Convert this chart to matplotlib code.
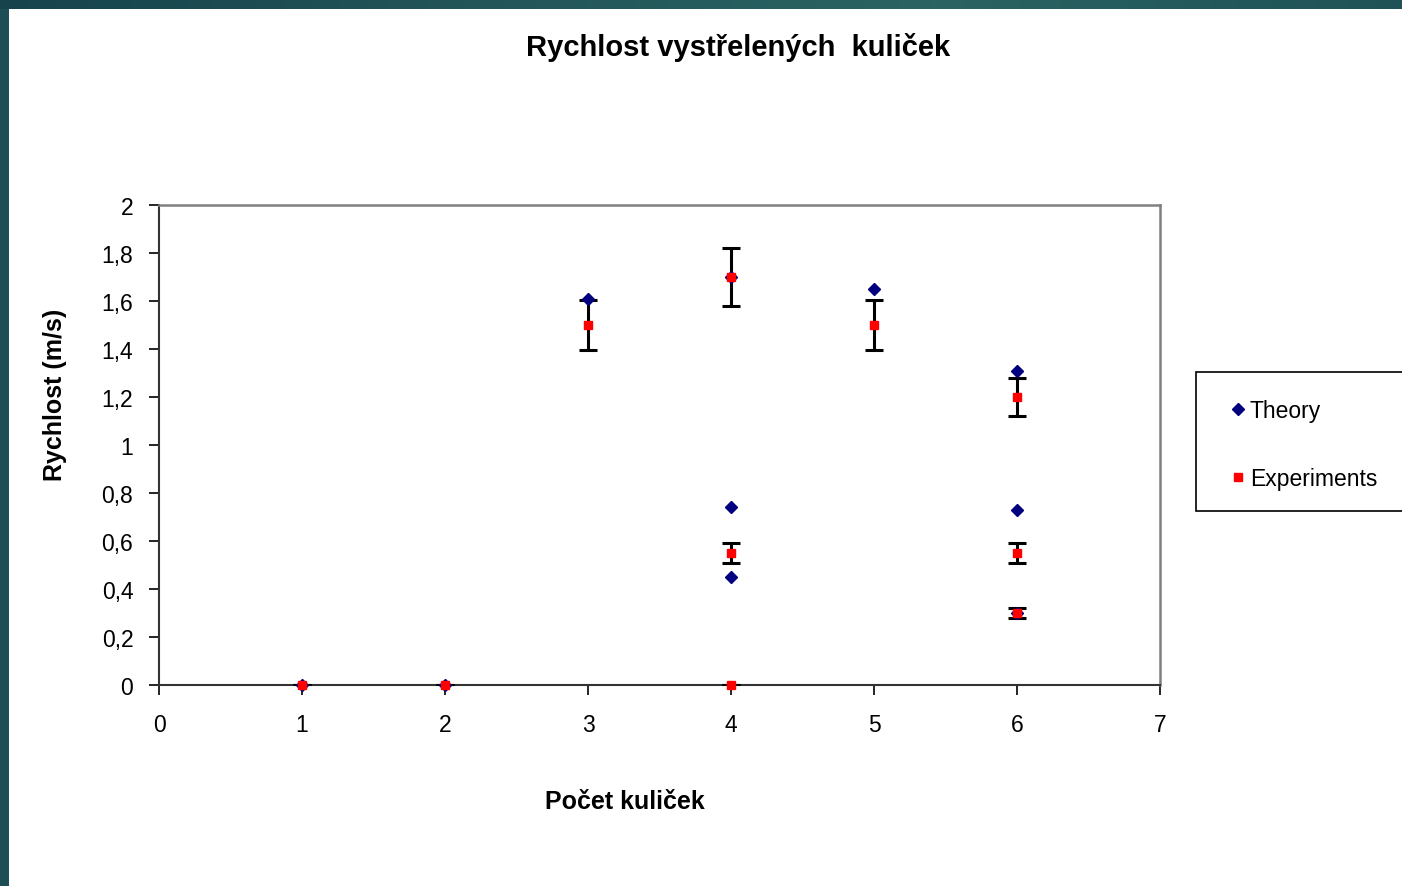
import matplotlib
matplotlib.use("Agg")
import matplotlib.pyplot as plt
import numpy as np
from matplotlib.patches import Rectangle
from matplotlib.lines import Line2D
from matplotlib.colors import LinearSegmentedColormap

plt.rcParams['font.family'] = ['Liberation Sans', 'DejaVu Sans']

# ---- data ----
theory_x = [1, 2, 3, 4, 4, 4, 5, 6, 6, 6]
theory_y = [0, 0, 1.61, 1.70, 0.74, 0.45, 1.65, 1.31, 0.73, 0.30]

exp_x = [1, 2, 3, 4, 4, 4, 5, 6, 6, 6]
exp_y = [0, 0, 1.50, 1.70, 0.55, 0.0, 1.50, 1.20, 0.55, 0.30]
exp_err = [0, 0, 0.105, 0.12, 0.04, 0, 0.105, 0.08, 0.04, 0.02]

xticks = [0, 1, 2, 3, 4, 5, 6, 7]
xtick_labels = ['0', '1', '2', '3', '4', '5', '6', '7']
yticks = [0, 0.2, 0.4, 0.6, 0.8, 1.0, 1.2, 1.4, 1.6, 1.8, 2.0]
ytick_labels = ['0', '0,2', '0,4', '0,6', '0,8', '1', '1,2', '1,4', '1,6', '1,8', '2']

title = 'Rychlost vystřelených  kuliček'
xlabel = 'Počet kuliček'
ylabel = 'Rychlost (m/s)'
series_names = ['Theory', 'Experiments']

W, H = 1402, 887
fig = plt.figure(figsize=(W / 100, H / 100), dpi=100)
fig.patch.set_facecolor('#1d4d55')

# white page
fig.patches.append(Rectangle((9 / W, 0), 1, 1 - 10 / H, transform=fig.transFigure,
                             facecolor='white', edgecolor='none', zorder=-5))

# top gradient bar
gax = fig.add_axes([0, 1 - 10 / H, 1, 10 / H])
grad = np.linspace(0, 1, 256).reshape(1, -1)
cmap = LinearSegmentedColormap.from_list('g', ['#17434d', '#225558', '#2a6362', '#1f5257'])
gax.imshow(grad, aspect='auto', cmap=cmap, extent=[0, 1, 0, 1])
gax.axis('off')

ax = fig.add_axes([159 / W, 1 - 686 / H, (1160 - 159) / W, (686 - 206) / H])
ax.set_zorder(3)
ax.set_facecolor('white')

ax.errorbar(exp_x, exp_y, yerr=exp_err, fmt='none', ecolor='black', elinewidth=2.2,
            capsize=6.5, capthick=2.2, zorder=3)
ax.plot(theory_x, theory_y, linestyle='none', marker='D', markersize=6,
        color='#000080', zorder=4, clip_on=False)
ax.plot(exp_x, exp_y, linestyle='none', marker='s', markersize=5.3,
        color='#ff0000', zorder=5, clip_on=False)

ax.set_xlim(0, 7)
ax.set_ylim(0, 2)
ax.set_xticks(xticks)
ax.set_xticklabels(xtick_labels)
ax.set_yticks(yticks)
ax.set_yticklabels(ytick_labels)
ax.tick_params(axis='both', direction='out', length=7, width=1.2, labelsize=16.5,
               colors='black')
ax.tick_params(axis='x', pad=13.5)
ax.tick_params(axis='y', pad=11.5)

for s in ['top', 'right']:
    ax.spines[s].set_color('#808080')
    ax.spines[s].set_linewidth(1.8)
for s in ['left', 'bottom']:
    ax.spines[s].set_color('#333333')
    ax.spines[s].set_linewidth(1.5)

fig.text(738 / W, 1 - 48 / H, title, ha='center', va='center', fontsize=21,
         fontweight='bold')
fig.text(625 / W, 1 - 802 / H, xlabel, ha='center', va='center', fontsize=18,
         fontweight='bold')
fig.text(55 / W, 1 - 395 / H, ylabel, ha='center', va='center', fontsize=18,
         fontweight='bold', rotation=90)

# legend
fig.patches.append(Rectangle((1196 / W, 1 - 512 / H), (1420 - 1196) / W, (512 - 373) / H,
                             transform=fig.transFigure, facecolor='white',
                             edgecolor='black', linewidth=1.2, zorder=1))
handles = [Line2D([], [], linestyle='none', marker='D', markersize=6, color='#000080'),
           Line2D([], [], linestyle='none', marker='s', markersize=5.3, color='#ff0000')]
leg = fig.legend(handles, series_names, loc='upper left',
                 bbox_to_anchor=(1219 / W, 1 - 389 / H), frameon=False,
                 fontsize=16.5, handlelength=0.7, handletextpad=0.15,
                 labelspacing=1.95, borderpad=0)

fig.savefig('out.png', dpi=100)
